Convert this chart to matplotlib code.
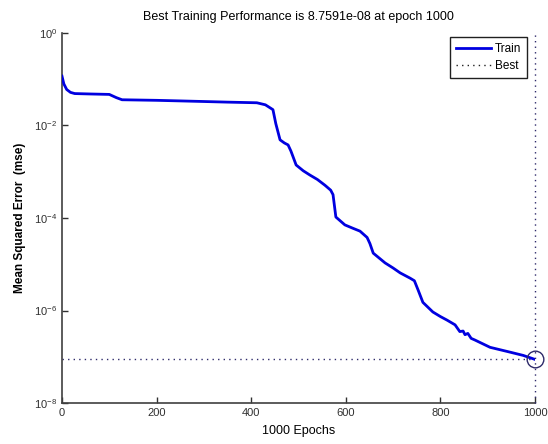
import numpy as np
import matplotlib
matplotlib.use("Agg")
import matplotlib.pyplot as plt

plt.rcParams['font.family'] = ['Liberation Sans', 'DejaVu Sans']

# training record: epoch and mean squared error
epochs = [0, 4, 10, 18, 27, 60, 100, 115, 127, 200, 250, 300, 350, 412, 430,
          446, 452, 461, 470, 478, 484, 495, 510, 524, 540, 556, 568, 573,
          579, 598, 615, 630, 645, 651, 658, 683, 700, 715, 736, 745, 753,
          763, 784, 800, 814, 831, 841, 848, 852, 858, 865, 873, 905, 947,
          975, 1000]
mse = [1.17e-1, 7.9e-2, 6.0e-2, 5.2e-2, 4.9e-2, 4.8e-2, 4.7e-2, 4.0e-2,
       3.6e-2, 3.5e-2, 3.4e-2, 3.3e-2, 3.2e-2, 3.1e-2, 2.8e-2, 2.2e-2,
       1.1e-2, 4.9e-3, 4.2e-3, 3.8e-3, 2.8e-3, 1.4e-3, 1.05e-3, 8.5e-4,
       6.8e-4, 5.1e-4, 4.0e-4, 3.2e-4, 1.05e-4, 7.1e-5, 6.0e-5, 5.2e-5,
       3.8e-5, 2.8e-5, 1.74e-5, 1.07e-5, 8.3e-6, 6.5e-6, 5.0e-6, 4.4e-6,
       2.75e-6, 1.5e-6, 9.3e-7, 7.4e-7, 6.2e-7, 4.9e-7, 3.5e-7, 3.6e-7,
       3.0e-7, 3.2e-7, 2.5e-7, 2.3e-7, 1.6e-7, 1.26e-7, 1.07e-7, 8.7591e-8]

best_epoch = 1000
best_mse = 8.7591e-8

xticks = [0, 200, 400, 600, 800, 1000]
yticks = [1e0, 1e-2, 1e-4, 1e-6, 1e-8]

fig = plt.figure(figsize=(5.48, 4.44), dpi=100)
ax = fig.add_axes([0.1131, 0.0923, 0.8632, 0.8334])

ax.semilogy(epochs, mse, color='#0000e0', lw=2.0, label='Train', zorder=3)
best_col = '#2e2a6a'
ax.axhline(best_mse, color=best_col, ls=(0, (1, 3)), lw=1.0, label='Best')
ax.axvline(best_epoch, color=best_col, ls=(0, (1, 3)), lw=1.0,
           clip_on=False, zorder=5)
ax.plot([best_epoch], [best_mse], 'o', mfc='none', mec=best_col, ms=12,
        mew=1.0, clip_on=False, zorder=4)

ax.set_xlim(0, 1000)
ax.set_ylim(1e-8, 1e0)
ax.set_xticks(xticks)
ax.set_yticks(yticks)
ax.yaxis.set_minor_locator(matplotlib.ticker.NullLocator())
ax.tick_params(direction='in', length=4, width=1, colors='#303030',
               labelsize=8, top=False, right=False)
for s in ['top', 'right']:
    ax.spines[s].set_visible(False)
for s in ['left', 'bottom']:
    ax.spines[s].set_color('#404040')
    ax.spines[s].set_linewidth(1.2)

ax.set_title('Best Training Performance is 8.7591e-08 at epoch 1000',
             fontsize=9, pad=9)
ax.set_xlabel('1000 Epochs', fontsize=9, labelpad=5)
ax.set_ylabel('Mean Squared Error  (mse)', fontsize=8.5, fontweight='bold',
              labelpad=6)

leg = ax.legend(loc='upper right', bbox_to_anchor=(0.988, 0.995),
                fontsize=8.5, frameon=True, fancybox=False, handlelength=3.0,
                borderpad=0.5, labelspacing=0.45, handletextpad=0.3,
                borderaxespad=0.2)
leg.get_frame().set_edgecolor('#202020')
leg.get_frame().set_linewidth(1.0)
leg.get_frame().set_alpha(1)
leg.get_lines()[1].set_color('#202020')

fig.savefig('out.png', dpi=100)
